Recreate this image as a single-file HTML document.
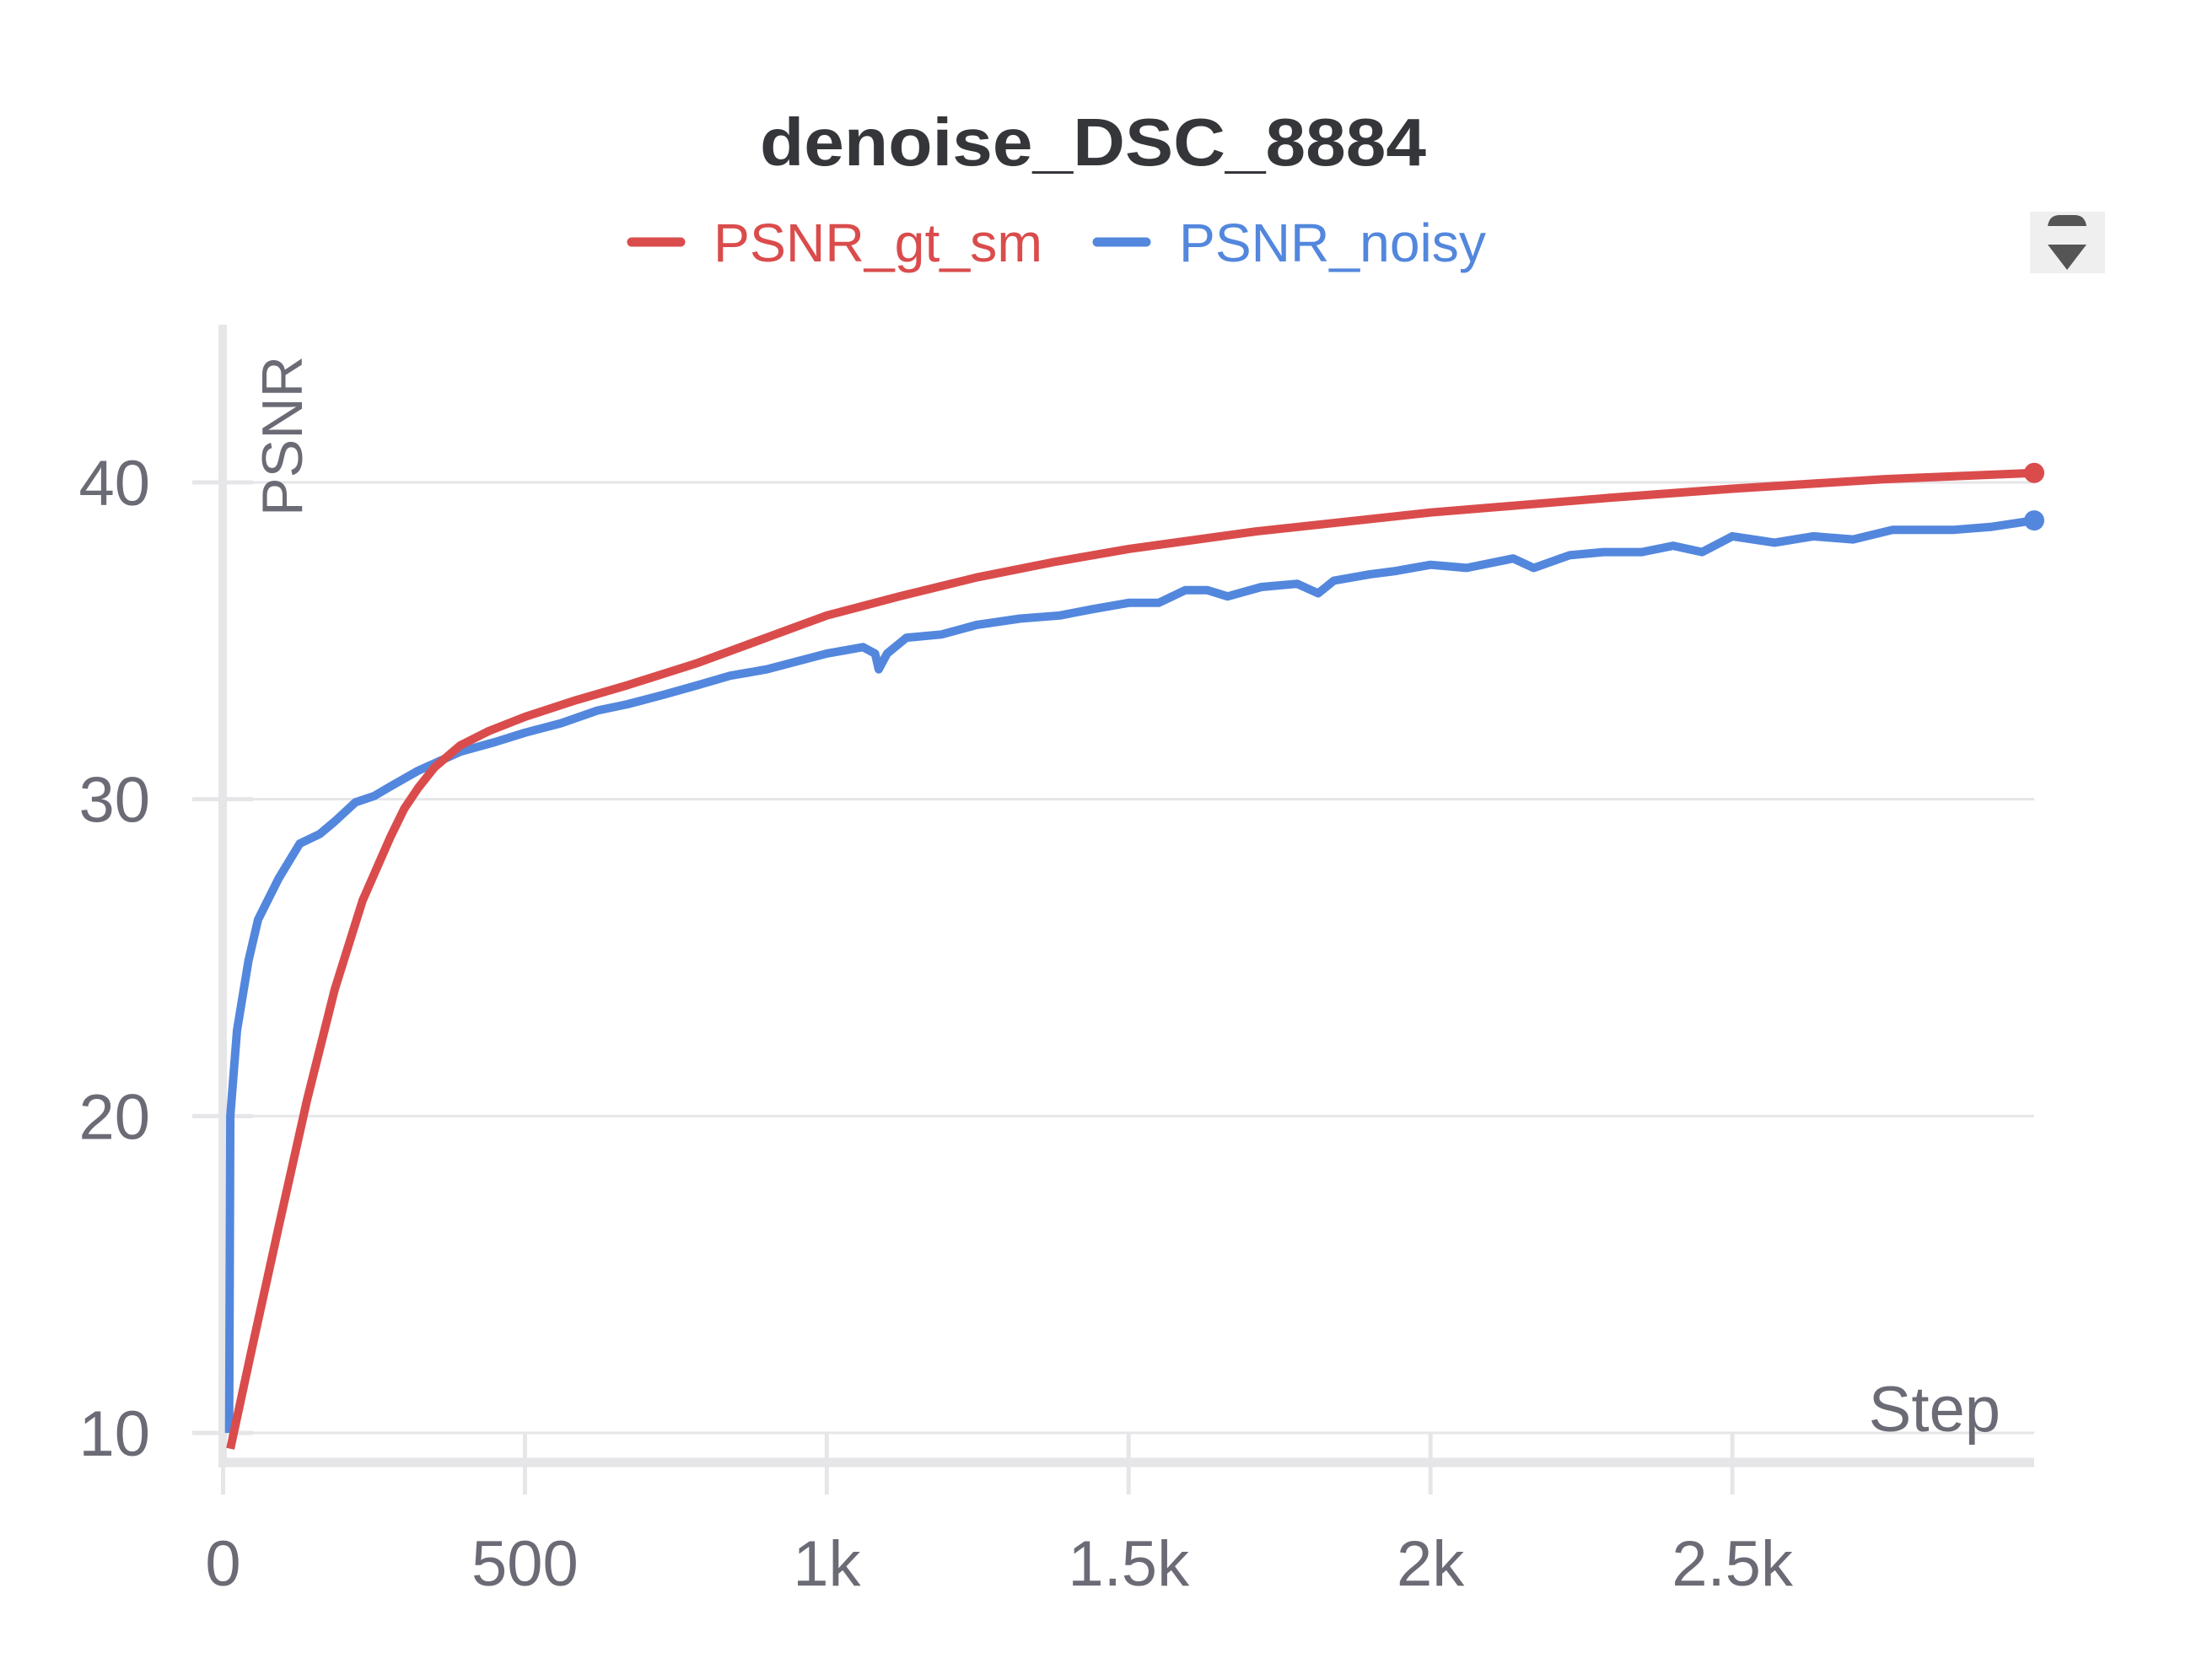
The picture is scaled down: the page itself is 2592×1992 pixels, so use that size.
<!DOCTYPE html>
<html><head><meta charset="utf-8"><style>
html,body{margin:0;padding:0;background:#fff;}
svg{display:block;font-family:"Liberation Sans",sans-serif;}
</style></head><body>
<svg id="chart" width="2592" height="1992" viewBox="0 0 2592 1992">
<text x="1296" y="196" text-anchor="middle" font-size="80" font-weight="bold" fill="#35363a" textLength="790" lengthAdjust="spacingAndGlyphs">denoise_DSC_8884</text>
<g>
<g>
<line x1="749" y1="287" x2="807" y2="287" stroke="#da4c4c" stroke-width="11" stroke-linecap="round"/>
<text x="846" y="310" font-size="64" fill="#da4c4c" textLength="390" lengthAdjust="spacingAndGlyphs">PSNR_gt_sm</text>
</g>
<g>
<line x1="1301" y1="287" x2="1359" y2="287" stroke="#5387dd" stroke-width="11" stroke-linecap="round"/>
<text x="1398" y="310" font-size="64" fill="#5387dd" textLength="364" lengthAdjust="spacingAndGlyphs">PSNR_noisy</text>
</g>
</g>
<g>
<rect x="2407" y="251" width="89" height="73" fill="#efefef"/>
<path d="M2428 268 Q2430 255 2442 255 L2460 255 Q2472 255 2474 268 Z" fill="#555"/>
<path d="M2428 290 L2474 290 L2451 320 Z" fill="#555"/>
</g>
<g id="grid"></g>
<g id="axes"></g>
<g id="series"></g>
<text x="2372" y="1697" text-anchor="end" font-size="76" fill="#6b6b76">Step</text>
<text transform="translate(358,612) rotate(-90)" font-size="68" fill="#6b6b76" textLength="190" lengthAdjust="spacingAndGlyphs">PSNR</text>
</svg>
<script>
const xTicks=[0,500,1000,1500,2000,2500];
const xTickLabels=["0","500","1k","1.5k","2k","2.5k"];
const yTicks=[10,20,30,40];
const yTickLabels=["10","20","30","40"];
const gtSteps=[12,46,92,139,185,231,277,300,323,350,393,440,500,580,670,786,900,1000,1120,1248,1380,1500,1710,2000,2287,2500,2750,3000];
const gtValues=[9.5,12.5,16.5,20.5,24,26.8,28.8,29.7,30.35,31.0,31.7,32.15,32.6,33.1,33.6,34.3,35.1,35.8,36.4,37.0,37.5,37.9,38.45,39.05,39.5,39.8,40.1,40.3];
const noisySteps=[10,12,23,42,58,92,127,160,185,219,250,277,323,393,450,500,560,620,670,730,786,840,901,960,1000,1060,1080,1086,1100,1132,1190,1248,1320,1386,1440,1500,1550,1594,1630,1664,1720,1779,1814,1840,1900,1941,2000,2060,2137,2171,2230,2287,2350,2402,2450,2500,2570,2634,2700,2765,2865,2930,3000];
const noisyValues=[10,20,22.7,24.9,26.2,27.5,28.6,28.9,29.3,29.9,30.1,30.4,30.9,31.5,31.8,32.1,32.4,32.8,33.0,33.3,33.6,33.9,34.1,34.4,34.6,34.8,34.6,34.1,34.6,35.1,35.2,35.5,35.7,35.8,36.0,36.2,36.2,36.6,36.6,36.4,36.7,36.8,36.5,36.9,37.1,37.2,37.4,37.3,37.6,37.3,37.7,37.8,37.8,38.0,37.8,38.3,38.1,38.3,38.2,38.5,38.5,38.6,38.8];

const NS="http://www.w3.org/2000/svg";
const X0=264.5,X1=2412,XMAX=3000,Y10=1699,Y40=572;
function sx(v){return X0+(X1-X0)*v/XMAX;}
function sy(v){return Y10+(Y40-Y10)*(v-10)/30;}
function mk(tag,attrs,parent){const e=document.createElementNS(NS,tag);for(const k in attrs)e.setAttribute(k,attrs[k]);parent.appendChild(e);return e;}
const grid=document.getElementById('grid'),axes=document.getElementById('axes'),series=document.getElementById('series');
yTicks.forEach((t,i)=>{
 const g=mk('line',{x1:X0,x2:X1,y1:sy(t),y2:sy(t),stroke:'#e6e6e9','stroke-width':3},grid);
 
 
 const tk=mk('line',{x1:228,x2:300,y1:sy(t),y2:sy(t),stroke:'#e6e6e9','stroke-width':5},axes);
 
 
 const lb=mk('text',{x:178,y:sy(t)+27,'text-anchor':'end','font-size':76,fill:'#6b6b76'},axes);
 lb.textContent=yTickLabels[i];
 
 
});
xTicks.forEach((t,i)=>{
 const tk=mk('line',{x1:sx(t),x2:sx(t),y1:1700,y2:1772,stroke:'#e6e6e9','stroke-width':5},axes);
 
 
 const lb=mk('text',{x:sx(t),y:1880,'text-anchor':'middle','font-size':76,fill:'#6b6b76'},axes);
 lb.textContent=xTickLabels[i];
 
 
});
const ya=mk('line',{x1:264,x2:264,y1:385,y2:1740,stroke:'#e6e6e9','stroke-width':10},axes);


const xa=mk('line',{x1:259,x2:2412,y1:1734,y2:1734,stroke:'#e6e6e9','stroke-width':11},axes);


function path(xs,ys){return xs.map((s,i)=>(i?'L':'M')+sx(s).toFixed(1)+' '+sy(ys[i]).toFixed(1)).join(' ');}
const pn=mk('path',{d:path(noisySteps,noisyValues),fill:'none',stroke:'#5387dd','stroke-width':10,'stroke-linejoin':'round'},series);


const pg=mk('path',{d:path(gtSteps,gtValues),fill:'none',stroke:'#da4c4c','stroke-width':10,'stroke-linejoin':'round'},series);


const dn=mk('circle',{cx:sx(noisySteps[noisySteps.length-1]),cy:sy(noisyValues[noisyValues.length-1]),r:12,fill:'#5387dd'},series);


const dg=mk('circle',{cx:sx(gtSteps[gtSteps.length-1]),cy:sy(gtValues[gtValues.length-1]),r:12,fill:'#da4c4c'},series);


</script>
</body></html>
